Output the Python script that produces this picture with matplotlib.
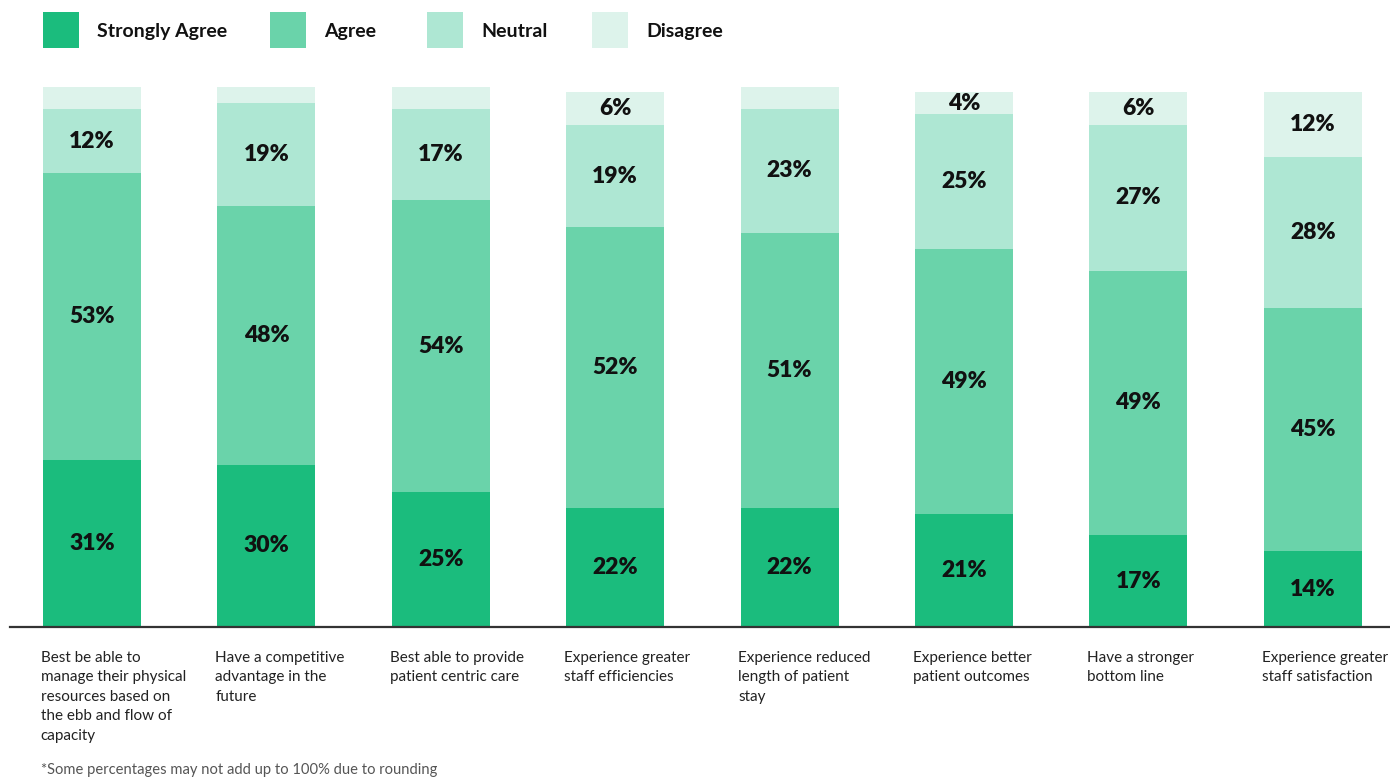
import matplotlib

matplotlib.use('Agg')
from matplotlib import pyplot as plt
from matplotlib.patches import Rectangle
import numpy as np

plt.rcParams['font.family'] = ['Lato', 'DejaVu Sans']

categories = [
    "Best be able to\nmanage their physical\nresources based on\nthe ebb and flow of\ncapacity",
    "Have a competitive\nadvantage in the\nfuture",
    "Best able to provide\npatient centric care",
    "Experience greater\nstaff efficiencies",
    "Experience reduced\nlength of patient\nstay",
    "Experience better\npatient outcomes",
    "Have a stronger\nbottom line",
    "Experience greater\nstaff satisfaction",
]
strongly_agree = [31, 30, 25, 22, 22, 21, 17, 14]
agree = [53, 48, 54, 52, 51, 49, 49, 45]
neutral = [12, 19, 17, 19, 23, 25, 27, 28]
disagree = [4, 3, 4, 6, 4, 4, 6, 12]
# small disagree slices in the first bars carry no label
disagree_shown = [False, False, False, True, False, True, True, True]

series = [
    ("Strongly Agree", strongly_agree, "#1bbc7d"),
    ("Agree", agree, "#6ad3aa"),
    ("Neutral", neutral, "#aee7d3"),
    ("Disagree", disagree, "#ddf3eb"),
]

W, H = 1390, 778
fig = plt.figure(figsize=(W / 100, H / 100), dpi=100)
ax = fig.add_axes([10 / W, 1 - 627 / H, 1 - 10 / W, 540 / H])

x = np.arange(len(categories))
width = 0.562
bottom = np.zeros(len(categories))
for name, vals, color in series:
    vals = np.array(vals, dtype=float)
    ax.bar(x, vals, width, bottom=bottom, color=color, linewidth=0, label=name)
    for i, v in enumerate(vals):
        if name == "Disagree" and not disagree_shown[i]:
            continue
        ax.text(x[i], bottom[i] + v / 2, "{}%".format(int(v)), ha='center', va='center',
                fontsize=16.5, fontweight='heavy', color='#111111')
    bottom += vals

ax.set_xlim(-0.470, 7.443)
ax.set_ylim(0, 100)
for side in ['top', 'right', 'left']:
    ax.spines[side].set_visible(False)
ax.spines['bottom'].set_color('#333333')
ax.spines['bottom'].set_linewidth(1.6)
ax.set_xticks([])
ax.set_yticks([])

# category captions, left aligned with each bar
for i, label in enumerate(categories):
    ax.annotate(label, xy=(x[i] - width / 2 - 0.012, 0), xycoords='data',
                xytext=(0, -17), textcoords='offset points', ha='left', va='top',
                fontsize=11, color='#222222', linespacing=1.5, annotation_clip=False)

# legend row across the top
legend_x = [43, 270, 427, 592]
for (name, vals, color), lx in zip(series, legend_x):
    fig.patches.append(Rectangle((lx / W, 1 - 48 / H), 36 / W, 36 / H,
                                 transform=fig.transFigure, color=color, linewidth=0))
    fig.text((lx + 54) / W, 1 - 31.5 / H, name, ha='left', va='center',
             fontsize=14, fontweight='bold', color='#111111')

fig.text(41 / W, 1 - 770 / H, "*Some percentages may not add up to 100% due to rounding",
         ha='left', va='center', fontsize=10.6, color='#555555')

plt.savefig("out.png", dpi=100)
plt.close("all")
